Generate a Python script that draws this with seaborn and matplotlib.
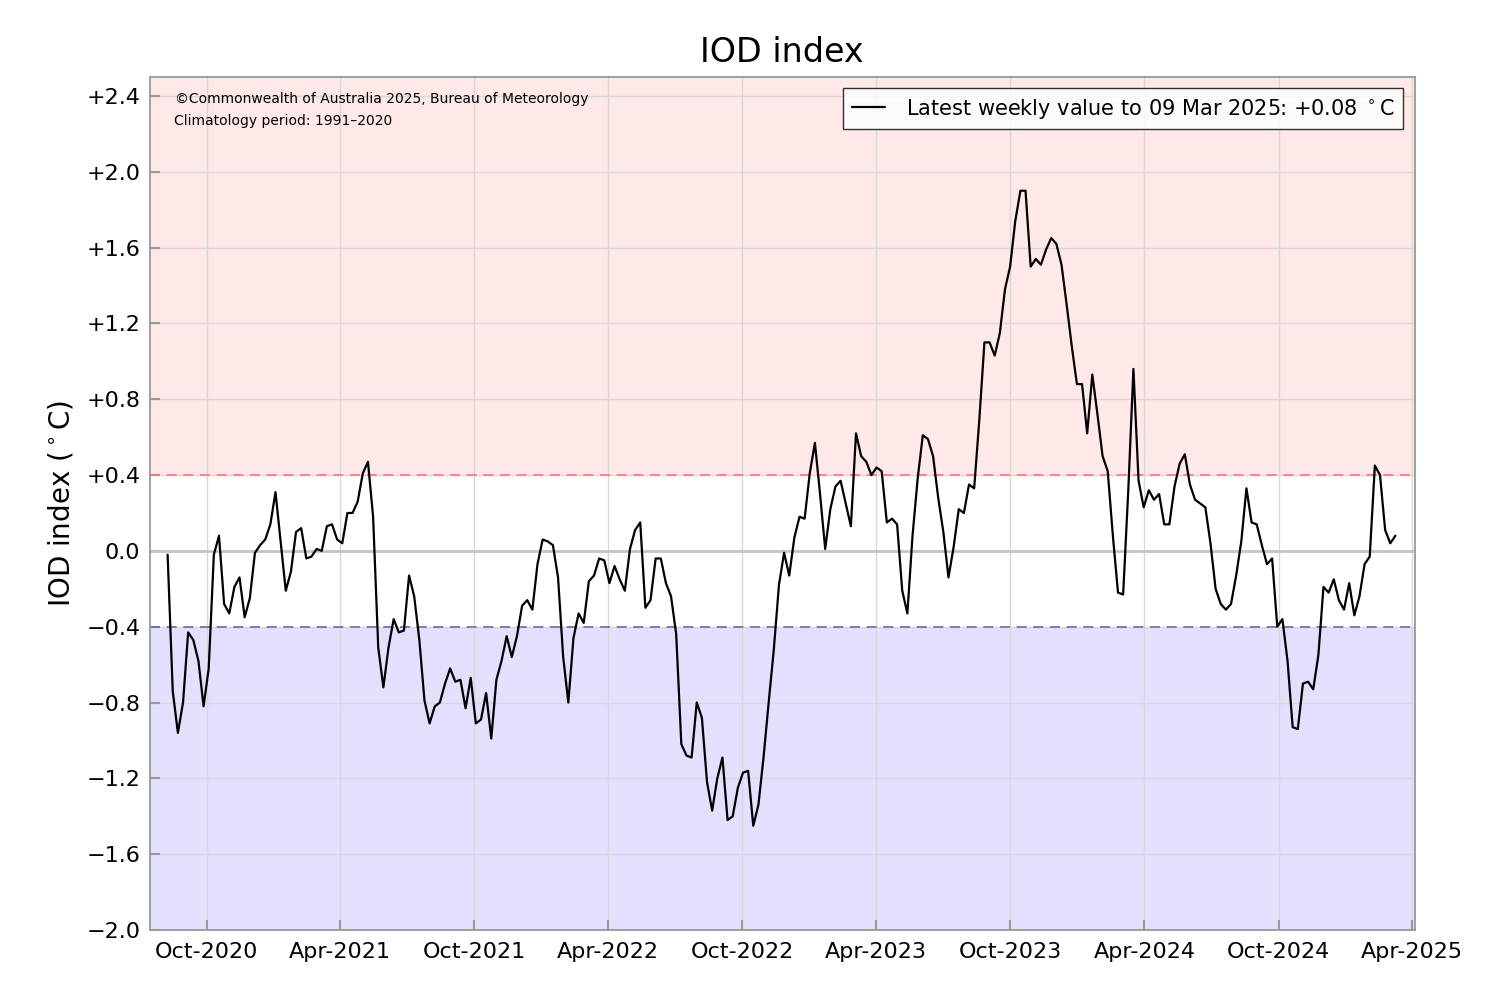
import seaborn as sns
import matplotlib.pyplot as plt
import matplotlib.dates as mdates
from matplotlib.ticker import FuncFormatter, MultipleLocator
import pandas as pd
import numpy as np

# weekly IOD values (deg C), one per Sunday, starting 2020-08-09
iod_2020 = [-0.02, -0.74, -0.96, -0.80, -0.43, -0.47, -0.58, -0.82, -0.62, -0.02,
            0.08, -0.28, -0.33, -0.19, -0.14, -0.35, -0.25, -0.01, 0.03, 0.06, 0.14]
iod_2021 = [0.31, 0.05, -0.21, -0.11, 0.10, 0.12, -0.04, -0.03, 0.01, 0.00,
            0.13, 0.14, 0.06, 0.04, 0.20, 0.20, 0.26, 0.41, 0.47, 0.18,
            -0.51, -0.72, -0.51, -0.36, -0.43, -0.42, -0.13, -0.24, -0.47, -0.79,
            -0.91, -0.82, -0.80, -0.70, -0.62, -0.69, -0.68, -0.83, -0.67, -0.91,
            -0.89, -0.75, -0.99, -0.68, -0.58, -0.45, -0.56, -0.45, -0.29, -0.26,
            -0.31, -0.07]
iod_2022 = [0.06, 0.05, 0.03, -0.14, -0.56, -0.80, -0.46, -0.33,
            -0.38, -0.16, -0.13, -0.04, -0.05, -0.17, -0.08, -0.15, -0.21, 0.01,
            0.11, 0.15, -0.30, -0.26, -0.04, -0.04, -0.17, -0.24, -0.44, -1.02,
            -1.08, -1.09, -0.80, -0.88, -1.22, -1.37, -1.20, -1.09, -1.42, -1.40,
            -1.25, -1.17, -1.16, -1.45, -1.34, -1.09, -0.80, -0.52, -0.18, -0.01,
            -0.13, 0.07, 0.18, 0.17]
iod_2023 = [0.41, 0.57, 0.30, 0.01, 0.22, 0.34,
            0.37, 0.25, 0.13, 0.62, 0.50, 0.47, 0.40, 0.44, 0.42, 0.15,
            0.17, 0.14, -0.21, -0.33, 0.08, 0.38, 0.61, 0.59, 0.50, 0.28,
            0.10, -0.14, 0.02, 0.22, 0.20, 0.35, 0.33, 0.69, 1.10, 1.10,
            1.03, 1.15, 1.38, 1.50, 1.74, 1.90, 1.90, 1.50, 1.54, 1.51,
            1.59, 1.65, 1.62, 1.51, 1.30, 1.08, 0.88]
iod_2024 = [0.88, 0.62, 0.93,
            0.72, 0.50, 0.42, 0.08, -0.22, -0.23, 0.32, 0.96, 0.37, 0.23,
            0.32, 0.27, 0.30, 0.14, 0.14, 0.34, 0.46, 0.51, 0.35, 0.27,
            0.25, 0.23, 0.04, -0.20, -0.28, -0.31, -0.28, -0.13, 0.05, 0.33,
            0.15, 0.14, 0.03, -0.07, -0.04, -0.40, -0.36, -0.58, -0.93, -0.94,
            -0.70, -0.69, -0.73, -0.55, -0.19, -0.22, -0.15, -0.26, -0.31]
iod_2025 = [-0.17, -0.34, -0.24, -0.07, -0.03, 0.45, 0.40, 0.11, 0.04, 0.08]

start_date = "2020-08-09"
pos_thresh = 0.4
neg_thresh = -0.4

values = iod_2020 + iod_2021 + iod_2022 + iod_2023 + iod_2024 + iod_2025
df = pd.DataFrame({
    "week": pd.date_range(start_date, periods=len(values), freq="W-SUN"),
    "iod": values,
})
last = df.iloc[-1]
label = "Latest weekly value to {}: {:+.2f} $^\\circ$C".format(
    last["week"].strftime("%d %b %Y"), last["iod"])

sns.set_style("white")
plt.rcParams["font.family"] = ["DejaVu Sans"]
plt.rcParams["text.color"] = "black"
plt.rcParams["axes.labelcolor"] = "black"
plt.rcParams["xtick.color"] = "black"
plt.rcParams["ytick.color"] = "black"

fig = plt.figure(figsize=(15, 10), dpi=100)
ax = fig.add_axes([0.100, 0.070, 0.843, 0.853])

ymin, ymax = -2.0, 2.5
ax.axhspan(pos_thresh, ymax, color="#ffe8e8", zorder=0)
ax.axhspan(ymin, neg_thresh, color="#e1e0fd", zorder=0)
ax.grid(True, color="#d8d8d8", lw=1, zorder=1)
ax.axhline(0, color="#c4c4c4", lw=2, zorder=2)
ax.axhline(pos_thresh, color="#f47878", lw=1.2, ls=(0, (6, 4)), zorder=2)
ax.axhline(neg_thresh, color="#6a66b8", lw=1.2, ls=(0, (6, 4)), zorder=2)

sns.lineplot(data=df, x="week", y="iod", color="black", lw=1.6,
             label=label, ax=ax, zorder=3)

ax.set_ylim(ymin, ymax)
ax.set_xlim(pd.Timestamp("2020-07-16"), pd.Timestamp("2025-04-04"))
ax.yaxis.set_major_locator(MultipleLocator(0.4))


def fmt(v, pos):
    if abs(v) < 1e-9:
        return "0.0"
    if v > 0:
        return "+{:.1f}".format(v)
    return "\u2212{:.1f}".format(abs(v))


ax.yaxis.set_major_formatter(FuncFormatter(fmt))
ax.xaxis.set_major_locator(mdates.MonthLocator(bymonth=[4, 10]))
ax.xaxis.set_major_formatter(mdates.DateFormatter("%b-%Y"))
ax.tick_params(axis="both", direction="in", length=7, width=1.5,
               color="#999999", labelcolor="black", labelsize=16, pad=7,
               bottom=True, left=True, top=False, right=False)
ax.tick_params(axis="x", pad=9)
for s in ax.spines.values():
    s.set_color("#999999")
    s.set_linewidth(1.3)

ax.set_xlabel("")
ax.set_ylabel("IOD index ($^\\circ$C)", fontsize=20, labelpad=8)
ax.set_title("IOD index", fontsize=24, pad=11)

ax.text(0.02, 0.982, "\u00a9Commonwealth of Australia 2025, Bureau of Meteorology",
        transform=ax.transAxes, fontsize=10, va="top", ha="left")
ax.text(0.019, 0.957, "Climatology period: 1991\u20132020",
        transform=ax.transAxes, fontsize=10, va="top", ha="left")

leg = ax.legend(loc="upper right", fontsize=15, frameon=True, fancybox=False,
                borderaxespad=0.55, handlelength=1.6, borderpad=0.4,
                handletextpad=1.0)
leg.get_frame().set_edgecolor("black")
leg.get_frame().set_linewidth(1)

fig.savefig("out.png", dpi=100)
